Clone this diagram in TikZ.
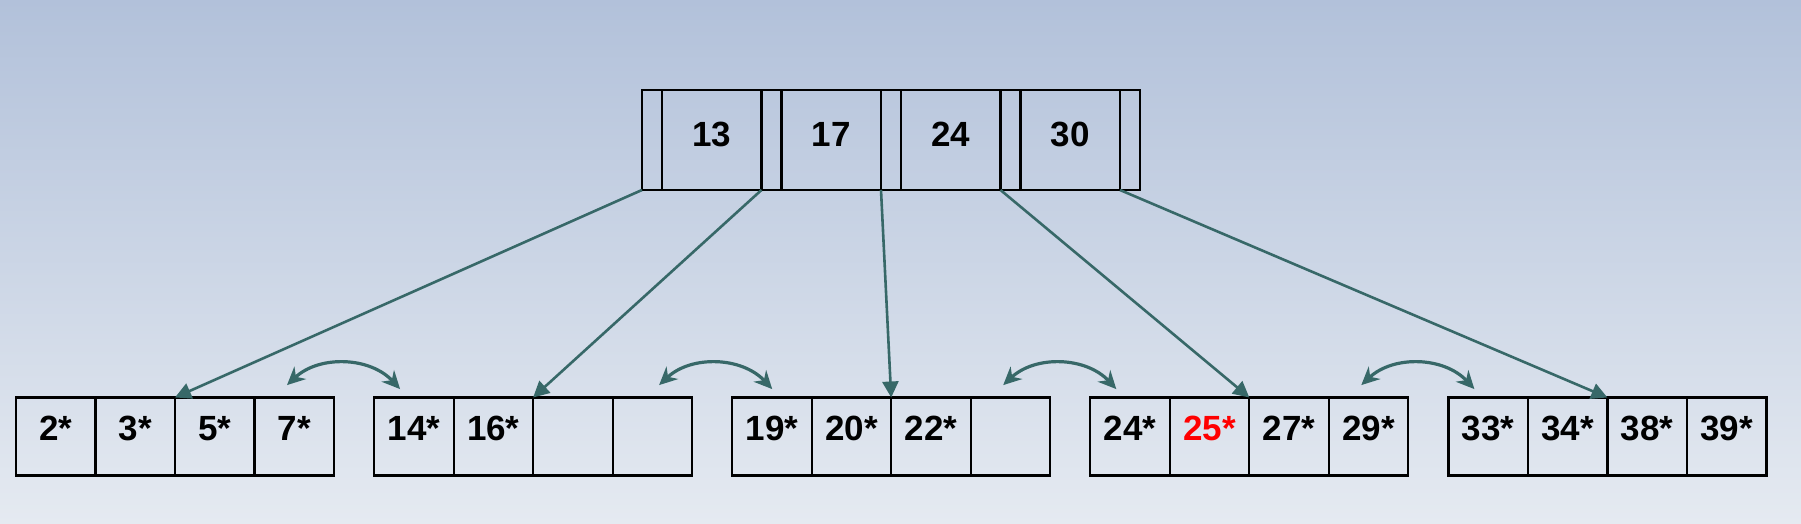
\documentclass[tikz,border=0pt]{standalone}
\usepackage{fontspec}
\setmainfont{Liberation Sans}
\usetikzlibrary{positioning,arrows.meta}
\definecolor{linkteal}{RGB}{55,104,104}
\definecolor{bgtop}{RGB}{178,193,218}
\definecolor{bgbottom}{RGB}{229,234,241}

\begin{document}
\begin{tikzpicture}
      [x=1pt, y=1pt,
      every node/.style={draw=black, line width=1.1pt, inner sep=0pt, outer sep=0pt,
        font=\fontsize{17.5}{20}\selectfont\bfseries},
      ptr/.style={minimum width=10pt, minimum height=50pt},
      key/.style={minimum width=49.75pt, minimum height=50pt, text height=12pt, text depth=5.2pt},
      cell/.style={minimum width=39.75pt, minimum height=39pt, text height=12pt, text depth=8.3pt},
      link/.style={linkteal, line width=1.3pt, -{Triangle[length=8pt,width=8pt]}},
      sib/.style={linkteal, line width=1.6pt, {Stealth[length=9pt,width=8.5pt]}-{Stealth[length=9pt,width=8.5pt]}},
      ]
      \shade[top color=bgtop, bottom color=bgbottom] (0,0) rectangle (900.5,262);
      % root: pointers and keys
      \node[ptr] (r0) at (326,192) {};
      \foreach \k [count=\i, remember=\i as \j (initially 0)] in {13,17,24,30} {
        \node[key, right=0pt of r\j] (k\i) {\k};
        \node[ptr, right=0pt of k\i] (r\i) {};
      }
      % leaves
      \foreach \list [count=\a] in {{2*,3*,5*,7*},{14*,16*,{},{}},{19*,20*,22*,{}},
          {24*,{\color{red}25*},27*,29*},{33*,34*,38*,39*}} {
        \foreach \t [count=\b] in \list
          \node[cell] (l\a-\b) at ({8+179.05*(\a-1)+39.75*(\b-0.5)},43.75) {\t};
      }
      % root to leaves
      \foreach \i in {1,...,5} {
        \pgfmathtruncatemacro\j{\i-1}
        \draw[link] (r\j.south west) -- (l\i-2.north east);
      }
      % sibling links
      \foreach \i/\s in {1/0,2/7,3/0,4/0} {
        \pgfmathtruncatemacro\j{\i+1}
        \coordinate (s\i) at ([xshift={(\s-23.5)*1pt}, yshift=6.2pt]l\i-4.north east);
        \coordinate (t\i) at ([xshift={(\s+13)*1pt}, yshift=4.2pt]l\j-1.north west);
        \draw[sib] (s\i) to[bend left=45] (t\i);
      }
      \end{tikzpicture}
\end{document}
